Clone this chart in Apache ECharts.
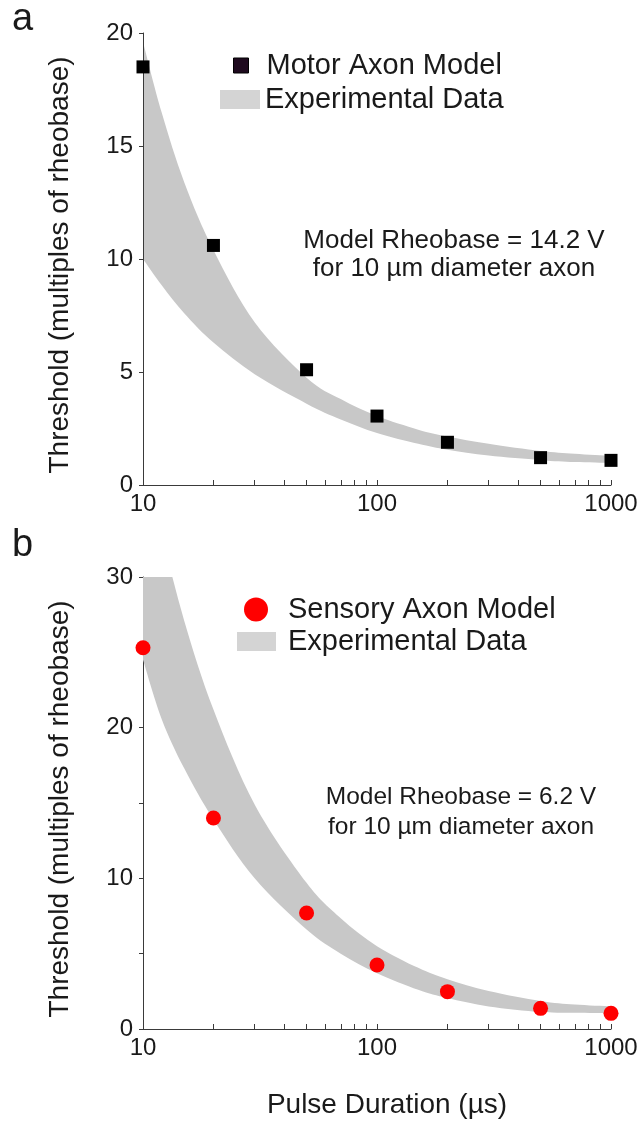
<!DOCTYPE html>
<html><head><meta charset="utf-8">
<script src="https://cdn.jsdelivr.net/npm/echarts@6/dist/echarts.min.js"></script>
<style>html,body{margin:0;padding:0;background:#fff}#c{width:643px;height:1122px}</style>
</head><body><div id="c"></div>
<script>
// ---------- DATA ----------
const durations = [10, 20, 50, 100, 200, 500, 1000];
const motorModel = [18.5, 10.6, 5.1, 3.05, 1.89, 1.21, 1.09];
const sensoryModel = [25.3, 14.0, 7.7, 4.25, 2.48, 1.37, 1.04];

const bandDur = [10, 12, 15, 20, 30, 50, 70, 100, 150, 200, 300, 500, 700, 1000];
const motorLow  = [10.0, 8.85, 7.6, 6.3, 4.9, 3.6, 2.9, 2.3, 1.82, 1.56, 1.3, 1.1, 1.02, 0.98];
const motorHigh = [19.6, 16.5, 13.4, 10.4, 7.2, 4.75, 3.8, 3.05, 2.45, 2.15, 1.82, 1.5, 1.38, 1.28];
const sensoryLow  = [24.5, 20.6, 17.3, 13.9, 10.0, 6.6, 5.0, 3.7, 2.6, 2.05, 1.5, 1.13, 1.08, 1.06];
const sensoryHigh = [39, 33, 27.1, 21.2, 14.9, 9.7, 7.35, 5.5, 4.06, 3.3, 2.52, 1.86, 1.62, 1.5];

const xTickValues = [10, 20, 30, 40, 50, 60, 70, 80, 90, 100, 200, 300, 400, 500, 600, 700, 800, 900, 1000];
const xLabelValues = [10, 100, 1000];
const yLabelsTop = [0, 5, 10, 15, 20];
const yLabelsBottom = [0, 10, 20, 30];

const legendMotor = 'Motor Axon Model';
const legendSensory = 'Sensory Axon Model';
const legendBand = 'Experimental Data';
const noteTop = ['Model Rheobase = 14.2 V', 'for 10 µm diameter axon'];
const noteBottom = ['Model Rheobase = 6.2 V', 'for 10 µm diameter axon'];
const yName = 'Threshold (multiples of rheobase)';
const xName = 'Pulse Duration (µs)';

// ---------- CHART ----------
const FONT = "'Liberation Sans', Arial, sans-serif";
const TXT = '#1a1a1a';
const AX = '#3a3a3a';
const BAND = '#c8c8c8';

const chart = echarts.init(document.getElementById('c'), null, {renderer: 'canvas'});

function xAxis(grid, withName) {
  const a = {
    type: 'log', logBase: 10, gridIndex: grid, min: 10, max: 1000,
    axisLine: {lineStyle: {color: AX, width: 1}},
    axisTick: {show: true, inside: true, length: 5, customValues: xTickValues, lineStyle: {color: AX}},
    axisLabel: {customValues: xLabelValues, formatter: v => String(v), fontSize: 24, color: TXT, fontFamily: FONT, margin: 7},
    splitLine: {show: false}, minorTick: {show: false}
  };
  if (withName) {
    a.name = xName; a.nameLocation = 'middle'; a.nameGap = 62;
    a.nameTextStyle = {fontSize: 28, color: TXT, fontFamily: FONT, padding: [0, 0, 0, 20]};
  }
  return a;
}
function yAxis(grid, max, labels, z) {
  return {
    type: 'value', gridIndex: grid, min: 0, max: max, interval: 5, z: z,
    axisLine: {show: true, lineStyle: {color: AX, width: 1}},
    axisTick: {show: true, inside: false, length: 4, lineStyle: {color: AX}},
    axisLabel: {customValues: labels, fontSize: 24, color: TXT, fontFamily: FONT, margin: 10},
    splitLine: {show: false},
    name: yName, nameLocation: 'middle', nameGap: 69,
    nameTextStyle: {fontSize: 28, color: TXT, fontFamily: FONT, padding: [0, 12, 0, 0]}
  };
}
// smooth path through pixel points (Catmull-Rom -> cubic Bezier)
function curveTo(P) {
  let s = '';
  const n = P.length;
  for (let i = 0; i < n - 1; i++) {
    const p0 = P[Math.max(i - 1, 0)], p1 = P[i], p2 = P[i + 1], p3 = P[Math.min(i + 2, n - 1)];
    const c1 = [p1[0] + (p2[0] - p0[0]) / 6, p1[1] + (p2[1] - p0[1]) / 6];
    const c2 = [p2[0] - (p3[0] - p1[0]) / 6, p2[1] - (p3[1] - p1[1]) / 6];
    s += ' C' + c1[0] + ',' + c1[1] + ' ' + c2[0] + ',' + c2[1] + ' ' + p2[0] + ',' + p2[1];
  }
  return s;
}
function bandSeries(grid, low, high) {
  return {
    type: 'custom', name: legendBand, xAxisIndex: grid, yAxisIndex: grid, clip: true, z: 1, silent: true,
    itemStyle: {color: '#d4d4d4'},
    data: bandDur.map((d, i) => [d, low[i], high[i]]),
    encode: {x: 0, y: [1, 2]},
    renderItem: function (params, api) {
      if (params.dataIndex !== 0) return null;
      const up = bandDur.map((d, i) => api.coord([d, high[i]]));
      const lo = bandDur.map((d, i) => api.coord([d, low[i]])).reverse();
      const d = 'M' + up[0][0] + ',' + up[0][1] + curveTo(up) +
                ' L' + lo[0][0] + ',' + lo[0][1] + curveTo(lo) + ' Z';
      return {type: 'path', shape: {pathData: d}, style: {fill: BAND, stroke: null}};
    }
  };
}
function legend(name, icon, left, top, w, h, color, pad) {
  return {
    data: [{name: name, icon: icon, itemStyle: {color: color, opacity: 1, borderWidth: name === legendMotor ? 1 : 0, borderColor: '#000'}}],
    left: left, top: top, itemWidth: w, itemHeight: h, padding: 0, selectedMode: false,
    textStyle: {fontSize: 29, color: TXT, fontFamily: FONT, padding: [0, 0, 0, pad]}
  };
}
function note(lines, cx, y1, y2, size) {
  return lines.map((t, k) => ({type: 'text', z: 100,
    style: {text: t, x: cx, y: k ? y2 : y1, textAlign: 'center', textVerticalAlign: 'middle', font: size + 'px ' + FONT, fill: TXT}}));
}
const graphics = [
  {type: 'text', z: 100, style: {text: 'a', x: 12, y: 20, textVerticalAlign: 'middle', font: '38px ' + FONT, fill: TXT}},
  {type: 'text', z: 100, style: {text: 'b', x: 12, y: 546, textVerticalAlign: 'middle', font: '38px ' + FONT, fill: TXT}},
  ...note(noteTop, 454, 241, 269, 26),
  ...note(noteBottom, 461, 797, 827, 24.5)
];

chart.setOption({
  animation: false,
  backgroundColor: '#fff',
  grid: [
    {left: 143, top: 33, width: 468, height: 452},
    {left: 143, top: 577, width: 468, height: 452}
  ],
  xAxis: [xAxis(0, false), xAxis(1, true)],
  yAxis: [yAxis(0, 20, yLabelsTop, 3), yAxis(1, 30, yLabelsBottom, 0)],
  legend: [
    legend(legendMotor, 'rect', 233, 51, 15, 15, '#1e0a1e', 13),
    legend(legendBand, 'rect', 220, 85, 40, 19, '#d4d4d4', 0),
    legend(legendSensory, 'circle', 244, 595, 24, 24, '#ff0000', 15),
    legend(legendBand, 'rect', 237, 627, 39, 19, '#d4d4d4', 7)
  ],
  graphic: graphics,
  series: [
    bandSeries(0, motorLow, motorHigh),
    bandSeries(1, sensoryLow, sensoryHigh),
    {type: 'scatter', name: legendMotor, xAxisIndex: 0, yAxisIndex: 0, z: 10,
     data: durations.map((d, i) => [d, motorModel[i]]), symbol: 'rect', symbolSize: 13,
     itemStyle: {color: '#000', opacity: 1}},
    {type: 'scatter', name: legendSensory, xAxisIndex: 1, yAxisIndex: 1, z: 10,
     data: durations.map((d, i) => [d, sensoryModel[i]]), symbol: 'circle', symbolSize: 15,
     itemStyle: {color: '#ff0000', opacity: 1}}
  ]
});
</script></body></html>
